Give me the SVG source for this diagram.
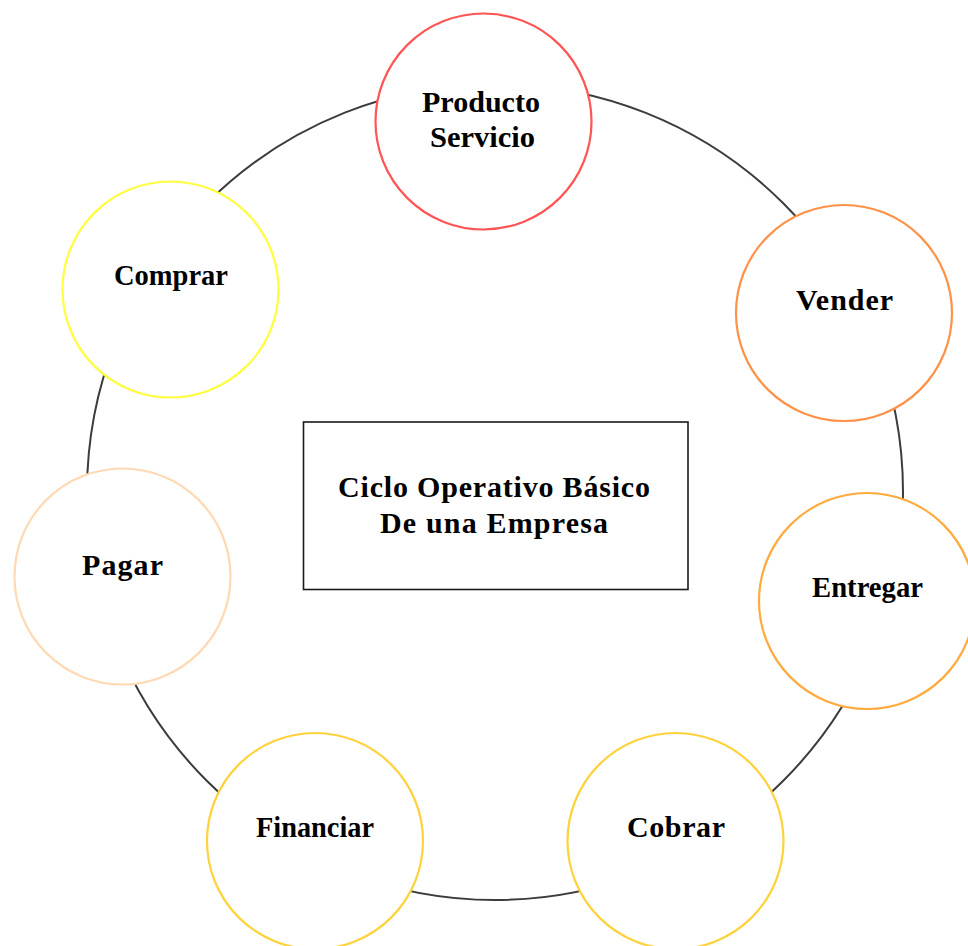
<svg xmlns="http://www.w3.org/2000/svg" width="968" height="946" viewBox="0 0 968 946">
<style>
.ring{fill:none;stroke:#3c3c3c;stroke-width:2}
.node{fill:#fff;stroke-width:2.2}
.lbl{font-family:"Liberation Serif","Times New Roman",serif;font-weight:bold;font-size:30px;fill:#000;text-anchor:middle}
</style>
<rect x="0" y="0" width="968" height="946" fill="#fff"/>
<g id="connectors">
<circle class="ring" cx="495" cy="492" r="408"/>
</g>
<g id="producto">
<circle class="node" cx="483.5" cy="121.5" r="108" stroke="#ff5555"/>
<text class="lbl" x="481" y="112" textLength="118" lengthAdjust="spacingAndGlyphs">Producto</text>
<text class="lbl" x="482.5" y="147" textLength="105" lengthAdjust="spacingAndGlyphs">Servicio</text>
</g>
<g id="vender">
<circle class="node" cx="844" cy="313" r="108" stroke="#ff9148"/>
<text class="lbl" x="844.5" y="310" textLength="97" lengthAdjust="spacing">Vender</text>
</g>
<g id="entregar">
<circle class="node" cx="867" cy="601" r="108" stroke="#ffaa3c"/>
<text class="lbl" x="867.5" y="597" textLength="111" lengthAdjust="spacingAndGlyphs">Entregar</text>
</g>
<g id="cobrar">
<circle class="node" cx="675.5" cy="841" r="108" stroke="#ffd23c"/>
<text class="lbl" x="676" y="837" textLength="98" lengthAdjust="spacing">Cobrar</text>
</g>
<g id="financiar">
<circle class="node" cx="315" cy="841" r="108" stroke="#ffd23c"/>
<text class="lbl" x="315" y="837" textLength="118" lengthAdjust="spacingAndGlyphs">Financiar</text>
</g>
<g id="pagar">
<circle class="node" cx="122.5" cy="576.5" r="108" stroke="#ffd9b4"/>
<text class="lbl" x="122.5" y="575" textLength="81" lengthAdjust="spacing">Pagar</text>
</g>
<g id="comprar">
<circle class="node" cx="170.5" cy="289.5" r="108" stroke="#ffff40"/>
<text class="lbl" x="171" y="285" textLength="114" lengthAdjust="spacingAndGlyphs">Comprar</text>
</g>
<g id="titulo">
<rect x="303.5" y="422" width="384.5" height="167.5" fill="#fff" stroke="#1a1a1a" stroke-width="1.6"/>
<text class="lbl" x="494" y="497" textLength="312" lengthAdjust="spacing">Ciclo Operativo Básico</text>
<text class="lbl" x="494" y="533" textLength="228" lengthAdjust="spacing">De una Empresa</text>
</g>
</svg>
